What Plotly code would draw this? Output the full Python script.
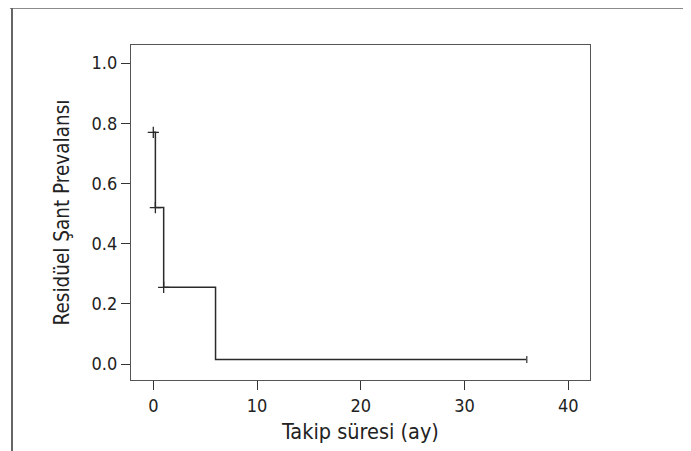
import plotly.graph_objects as go

# Kaplan-Meier step data (time in months, residual shunt prevalence)
step_time = [0, 0.2, 0.2, 1, 1, 6, 6, 36]
step_prev = [0.77, 0.77, 0.52, 0.52, 0.255, 0.255, 0.015, 0.015]
cens_time = [0, 0.2, 1]
cens_prev = [0.77, 0.52, 0.255]
end_time = [36]
end_prev = [0.015]

x_ticks = [0, 10, 20, 30, 40]
y_ticks = [0.0, 0.2, 0.4, 0.6, 0.8, 1.0]
y_tick_text = ["0.0", "0.2", "0.4", "0.6", "0.8", "1.0"]

FONT = "DejaVu Sans Condensed, Liberation Sans Narrow, sans-serif"

fig = go.Figure()
fig.add_trace(go.Scatter(x=step_time, y=step_prev, mode="lines",
                         line=dict(color="#2a2a2a", width=1.5), showlegend=False,
                         hoverinfo="skip"))
fig.add_trace(go.Scatter(x=cens_time, y=cens_prev, mode="markers",
                         marker=dict(symbol="cross-thin", size=8,
                                     line=dict(color="#2a2a2a", width=1.3)),
                         showlegend=False))
fig.add_trace(go.Scatter(x=end_time, y=end_prev, mode="markers",
                         marker=dict(symbol="line-ns", size=5,
                                     line=dict(color="#555", width=1.5)),
                         showlegend=False))

OFF = 8  # page body margin
W, H = 691 - OFF, 451 - OFF
L, T = 131 - OFF, 45 - OFF
R = W - (590 - OFF)
B = H - (380 - OFF)
pw, ph = W - L - R, H - T - B

def px(xp):
    return (xp - OFF - L) / pw

def py(yp):
    return (H - B - (yp - OFF)) / ph

fig.update_layout(
    width=W, height=H,
    margin=dict(l=L, r=R, t=T, b=B),
    paper_bgcolor="white", plot_bgcolor="white",
    font=dict(family=FONT, size=18, color="#222"),
    shapes=[
        dict(type="line", xref="paper", yref="paper",
             x0=px(12), x1=px(12), y0=py(8), y1=py(460),
             line=dict(color="#333", width=1.5)),
        dict(type="line", xref="paper", yref="paper",
             x0=px(10), x1=px(700), y0=py(8), y1=py(8),
             line=dict(color="#666", width=1.5)),
    ],
)
fig.update_xaxes(range=[-2.15, 42.1], tickvals=x_ticks, ticks="outside",
                 ticklen=9, tickcolor="#333", tickwidth=1.2,
                 showline=True, linecolor="#555", linewidth=1.3, mirror=True,
                 showgrid=False, zeroline=False,
                 tickfont=dict(family=FONT, size=18, color="#222"),
                 title=dict(text="Takip süresi (ay)", standoff=9,
                            font=dict(family=FONT, size=21.5, color="#222")))
fig.update_yaxes(range=[-0.053, 1.06], tickvals=y_ticks, ticktext=y_tick_text,
                 ticks="outside", ticklen=9, tickcolor="#333", tickwidth=1.2,
                 showline=True, linecolor="#555", linewidth=1.3, mirror=True,
                 showgrid=False, zeroline=False,
                 tickfont=dict(family=FONT, size=18, color="#222"),
                 title=dict(text="Residüel Şant Prevalansı", standoff=16,
                            font=dict(family=FONT, size=20.5, color="#222")))

fig.write_html("out.html")
